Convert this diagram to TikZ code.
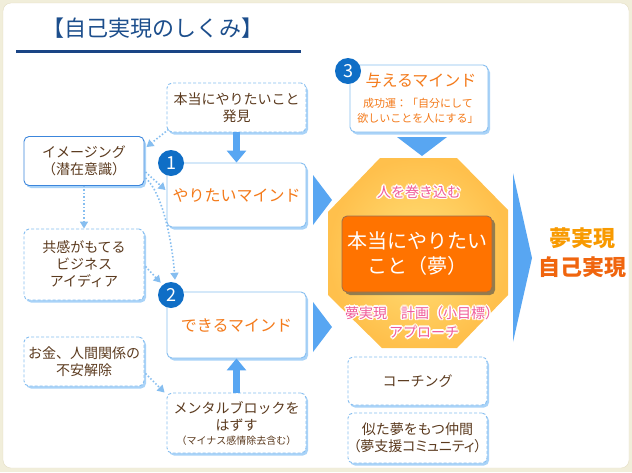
\documentclass[tikz,border=0pt]{standalone}
\usepackage{fontspec}
\setmainfont{Noto Sans CJK JP}
\newfontfamily\jpp[RawFeature=+palt]{Noto Sans CJK JP}
\usetikzlibrary{arrows.meta,shadows,calc}
\definecolor{bgbeige}{HTML}{F1EEDA}
\definecolor{panelline}{HTML}{E4DEC2}
\definecolor{lblue}{HTML}{86BEF0}
\definecolor{shblue}{HTML}{A9D3F8}
\definecolor{dblue}{HTML}{3C86DC}
\definecolor{arrblue}{HTML}{58A6F2}
\definecolor{circblue}{HTML}{0F6EC6}
\definecolor{brn}{HTML}{5B3A1E}
\definecolor{orng}{HTML}{F47A1A}
\definecolor{boxorange}{HTML}{FF7300}
\definecolor{boxedge}{HTML}{9A7050}
\definecolor{octout}{HTML}{FFC04C}
\definecolor{octin}{HTML}{FFE17A}
\definecolor{pinktext}{HTML}{F05C9A}
\definecolor{titleblue}{HTML}{1C4E8C}
\definecolor{lineblue}{HTML}{1A4585}
\definecolor{dreamA}{HTML}{F89A00}
\definecolor{dreamB}{HTML}{F0650E}
\newcommand\halocopy[2]{\rlap{\kern#1pt\raise#2pt\copy0}}
\newcommand\halo[2]{\leavevmode\hbox{\setbox0=\hbox{\color{white}#2}%
 \halocopy{1.6}{0}\halocopy{-1.6}{0}\halocopy{0}{1.6}\halocopy{0}{-1.6}%
 \halocopy{1.1}{1.1}\halocopy{-1.1}{1.1}\halocopy{1.1}{-1.1}\halocopy{-1.1}{-1.1}%
 \textcolor{#1}{#2}}}
\tikzset{
  basebox/.style={rounded corners=5pt, fill=white, align=center, inner sep=0pt,
    text=brn, font=\fontsize{14}{17}\selectfont,
    drop shadow={shadow xshift=2pt, shadow yshift=-2.5pt, fill=shblue, opacity=1}},
  dbox/.style={basebox, draw=lblue, line width=0.9pt, dash pattern=on 3pt off 2pt},
  sbox/.style={basebox, draw=lblue, line width=0.9pt},
  ibox/.style={basebox, draw=dblue, line width=0.9pt},
  mind/.style={text=orng, font=\fontsize{16}{19}\selectfont},
  numc/.style={circle, fill=circblue, text=white, minimum size=26pt, inner sep=0pt,
    font=\fontsize{18}{18}\selectfont},
  bigarr/.style={draw=arrblue, line width=7pt, -{Triangle[width=19pt,length=12pt]}},
  dotarr/.style={draw=lblue, line width=1.6pt, dash pattern=on 1.5pt off 2pt,
    -{Triangle[width=8pt,length=7pt]}},
  tri/.style={fill=arrblue},
  pinklab/.style={font=\fontsize{14}{16}\selectfont, inner sep=0pt},
  reslab/.style={font=\fontsize{22}{24}\bfseries\selectfont, inner sep=0pt},
}
\begin{document}
\begin{tikzpicture}[x=1pt,y=-1pt]
\useasboundingbox (0,0) rectangle (632,472);
\fill[bgbeige] (0,0) rectangle (632,472);
\draw[panelline, fill=white, rounded corners=8pt] (3,3) rectangle (629,468);

% title
\node[text=titleblue, font=\fontsize{22}{24}\selectfont, inner sep=0pt] (title) at (153,28) {【自己実現のしくみ】};
\draw[lineblue, line width=3pt] (16,51) -- (301,51);

% octagon
\path[shading=radial, inner color=octin, outer color=octout]
  (380,158) -- (457,158) -- (508,210) -- (508,295) -- (457,348) -- (382,348) -- (328,295) -- (328,212) -- cycle;

% triangles
\fill[tri] (313,175) -- (332,200) -- (313,225) -- cycle;
\fill[tri] (313,302) -- (332,327) -- (313,352) -- cycle;
\fill[tri] (397,137) -- (447,137) -- (422,156) -- cycle;
\fill[tri] (513,173) -- (532,258) -- (513,342) -- cycle;

% left boxes
\node[dbox, minimum width=139pt, minimum height=49pt] (hon) at (236.5,107.5) {本当にやりたいこと\\発見};
\node[ibox, minimum width=120pt, minimum height=49pt] (imag) at (84,161) {イメージング\\（潜在意識）};
\node[sbox, minimum width=139pt, minimum height=64pt, mind] (yari) at (236.5,195) {やりたいマインド};
\node[dbox, minimum width=120pt, minimum height=71pt] (kyo) at (84,264.5) {共感がもてる\\ビジネス\\アイディア};
\node[sbox, minimum width=139pt, minimum height=66pt, mind] (deki) at (236.5,325) {できるマインド};
\node[dbox, minimum width=120pt, minimum height=49pt] (okane) at (84,361.5) {お金、人間関係の\\不安解除};
\node[dbox, minimum width=139pt, minimum height=60pt] (ment) at (236.5,423) {メンタルブロックを\\はずす\\[-3pt]{\fontsize{10}{12}\selectfont（マイナス感情除去含む）}};

% give box
\node[sbox, minimum width=138pt, minimum height=67pt] (give) at (419,98.5) {};
\node[mind, inner sep=0pt] (giveT) at (421,80) {与えるマインド};
\node[text=orng, font=\fontsize{11}{15}\selectfont, align=center, inner sep=0pt] (giveS) at (418,111) {成功運：「自分にして\\欲しいことを人にする」};

% bottom boxes
\node[dbox, minimum width=139pt, minimum height=48pt] (coach) at (417.5,381) {コーチング};
\node[dbox, minimum width=139pt, minimum height=50pt] (nita) at (417.5,438) {似た夢をもつ仲間\\{\jpp（夢支援コミュニティ）}};

% numbers
\node[numc] (c1) at (171,163) {1};
\node[numc] (c2) at (171,295) {2};
\node[numc] (c3) at (348,71) {3};

% center orange box
\node[rounded corners=5pt, fill=boxorange, draw=boxedge, line width=0.8pt,
  minimum width=150pt, minimum height=76pt, text=white, align=center,
  font=\fontsize{20}{25}\selectfont, inner sep=0pt,
  drop shadow={shadow xshift=3pt, shadow yshift=-3pt, fill=black!70, opacity=0.6}]
  (dream) at (417,254) {本当にやりたい\\こと（夢）};

% pink labels
\node[pinklab] (inv) at (419,192) {\halo{pinktext}{人を巻き込む}};
\node[pinklab] (plan) at (422,313) {\halo{pinktext}{夢実現　計画（小目標）}};
\node[pinklab] (appr) at (424,332) {\halo{pinktext}{アプローチ}};

% result
\node[reslab] (res1) at (582,238) {\halo{dreamA}{夢実現}};
\node[reslab] (res2) at (582,267) {\halo{dreamB}{自己実現}};

% solid arrows
\draw[bigarr] (hon.south) -- (yari.north);
\draw[bigarr] (ment.north) -- (deki.south);

% dotted connectors
\draw[dotarr] ($(hon.south west)+(2,-3)$) -- ($(imag.north east)+(2,11)$);
\draw[dotarr] ($(imag.east)+(1,11)$) -- ($(yari.west)+(-1,-5)$);
\draw[dotarr] ($(imag.east)+(1,17)$) .. controls (162,192) and (172,240) .. ($(c2.north)+(4,-2)$);
\draw[dotarr] (imag.south) -- (kyo.north);
\draw[dotarr] ($(kyo.east)+(1,2)$) -- ($(c2.north west)+(-1,-3)$);
\draw[dotarr] ($(okane.east)+(1,12)$) -- ($(ment.north west)+(-2,0)$);
\end{tikzpicture}
\end{document}
